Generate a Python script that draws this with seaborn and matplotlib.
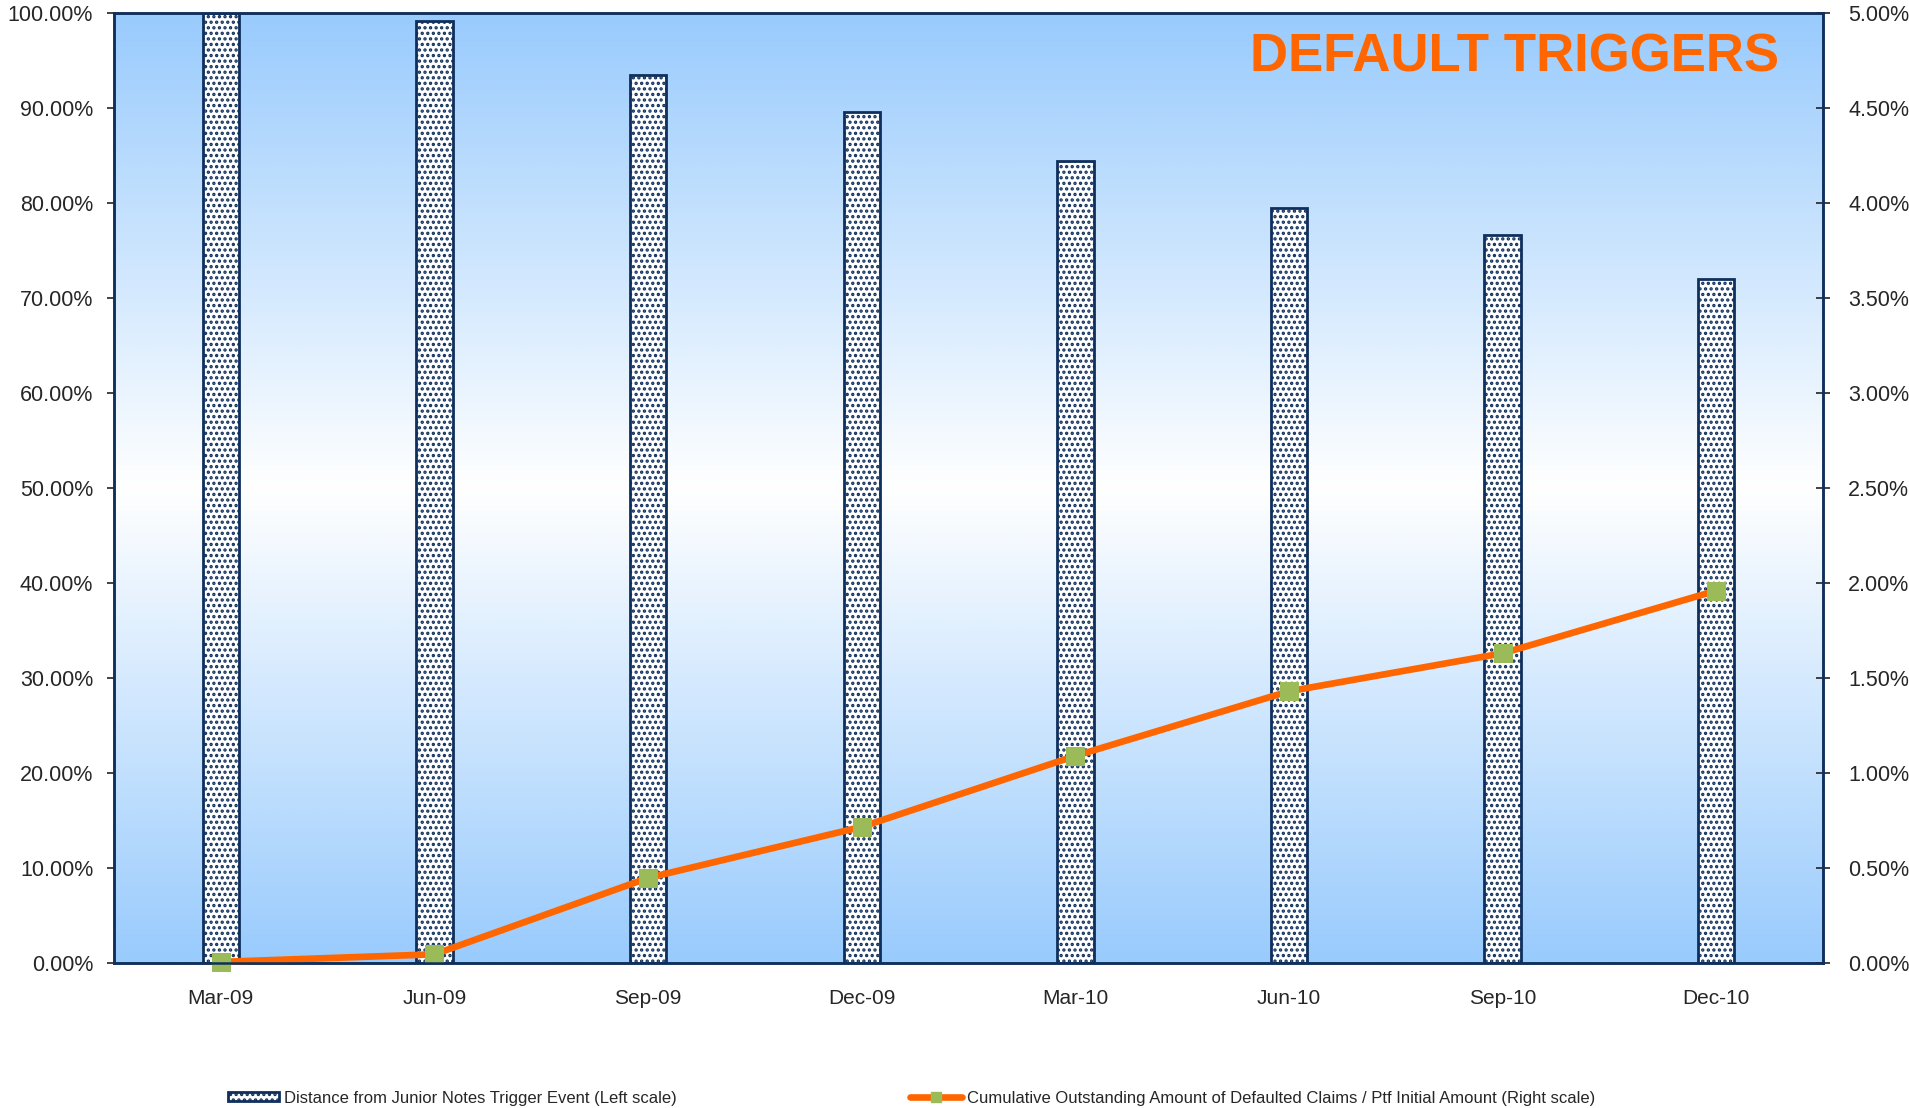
import numpy as np
import pandas as pd
import matplotlib
matplotlib.use('Agg')
import matplotlib.pyplot as plt
from matplotlib import font_manager
from matplotlib.colors import LinearSegmentedColormap
from matplotlib.patches import Patch
from matplotlib.lines import Line2D
import seaborn as sns

# ---------------- data ----------------
quarters = ["Mar-09", "Jun-09", "Sep-09", "Dec-09", "Mar-10", "Jun-10", "Sep-10", "Dec-10"]
distance_pct = [100.0, 99.2, 93.5, 89.6, 84.4, 79.5, 76.7, 72.0]
cumulative_pct = [0.005, 0.045, 0.447, 0.716, 1.09, 1.43, 1.63, 1.96]
left_ticks = [0, 10, 20, 30, 40, 50, 60, 70, 80, 90, 100]
right_ticks = [0.0, 0.5, 1.0, 1.5, 2.0, 2.5, 3.0, 3.5, 4.0, 4.5, 5.0]
title_text = "DEFAULT TRIGGERS"
bar_label = "Distance from Junior Notes Trigger Event (Left scale)"
line_label = "Cumulative Outstanding Amount of Defaulted Claims / Ptf Initial Amount (Right scale)"

# ---------------- style ----------------
sns.set_style("white")
plt.rcParams['font.family'] = ['Liberation Sans', 'DejaVu Sans']
plt.rcParams['hatch.linewidth'] = 1.6

names = {f.name for f in font_manager.fontManager.ttflist}
has_narrow = 'Liberation Sans Narrow' in names

navy = '#0F2F5C'
orange = '#FF6600'
green = '#9BBB59'

fig = plt.figure(figsize=(19.09, 11.08), dpi=100)
rect = [0.0597, 0.131, 0.8953, 0.857]

# background gradient axes
bg = fig.add_axes(rect, zorder=0)
cmap = LinearSegmentedColormap.from_list('bg', ['#99CBFD', '#FFFFFF', '#99CBFD'])
bg.imshow(np.linspace(0, 1, 512).reshape(-1, 1), cmap=cmap, aspect='auto',
          extent=[0, 1, 0, 1], interpolation='bilinear')
bg.set_axis_off()

ax = fig.add_axes(rect, zorder=1)
ax.patch.set_alpha(0)

df_bar = pd.DataFrame({'quarter': quarters, 'distance': distance_pct})
sns.barplot(data=df_bar, x='quarter', y='distance', ax=ax, width=0.17,
            color='white', saturation=1, edgecolor=navy, linewidth=2,
            hatch='...', zorder=2)
for p in ax.patches:
    p.set_facecolor('white')

ax.set_ylim(0, 100)
ax.set_xlim(-0.5, len(quarters) - 0.5)
ax.set_yticks(left_ticks)
ax.set_yticklabels([f"{v:.2f}%" for v in left_ticks], fontsize=15.5)
ax.set_xticks(range(len(quarters)))
ax.set_xticklabels(quarters, fontsize=15)
ax.set_xticks(np.arange(len(quarters) + 1) - 0.5, minor=True)
ax.tick_params(axis='x', which='major', length=0, pad=19)
ax.tick_params(axis='x', which='minor', length=7, width=1.2, direction='out', color='#222222')
ax.tick_params(axis='y', which='major', length=5, width=1.2, direction='out', color='#222222', pad=10)
ax.set_xlabel('')
ax.set_ylabel('')

ax2 = ax.twinx()
df_line = pd.DataFrame({'quarter': quarters, 'cumulative': cumulative_pct})
sns.pointplot(data=df_line, x='quarter', y='cumulative', ax=ax2, color=orange,
              markers='s', linestyles='-', errorbar=None, linewidth=4.8,
              markersize=10.5)
for ln in ax2.lines:
    ln.set_markerfacecolor(green)
    ln.set_markeredgecolor(green)
    ln.set_color(orange)
    ln.set_linewidth(4.8)
    ln.set_markersize(10.5)
    ln.set_solid_joinstyle('round')
    ln.set_clip_on(False)
ax2.set_ylim(0, 5)
ax2.set_xlim(-0.5, len(quarters) - 0.5)
ax2.set_yticks(right_ticks)
ax2.set_yticklabels([f"{v:.2f}%" for v in right_ticks], fontsize=15.5)
ax2.tick_params(axis='y', which='major', length=10, width=1.2, direction='inout', color='#222222', pad=13)
ax2.set_xlabel('')
ax2.set_ylabel('')

for a in (ax, ax2):
    for s in a.spines.values():
        s.set_visible(True)
        s.set_color(navy)
        s.set_linewidth(1.8)
        s.set_zorder(3)

# title
if has_narrow:
    fig.text(0.7936, 0.948, title_text, fontsize=44, fontweight='bold', color=orange,
             ha='center', va='center', family=['Liberation Sans Narrow', 'DejaVu Sans'])
else:
    fig.text(0.7936, 0.948, title_text, fontsize=38, fontweight='bold', color=orange,
             ha='center', va='center')

# legend
h_bar = Patch(facecolor='white', edgecolor=navy, hatch='...', linewidth=2)
h_line = Line2D([], [], color=orange, linewidth=4.8, marker='s', markersize=7,
                markerfacecolor=green, markeredgecolor=green)
fig.legend([h_bar, h_line], [bar_label, line_label], loc='center',
           bbox_to_anchor=(0.4775, 0.009), ncol=2, frameon=False, fontsize=12,
           handlelength=3.1, handleheight=0.45, columnspacing=14, handletextpad=0.3)

fig.savefig('out.png', dpi=100, facecolor='white')
